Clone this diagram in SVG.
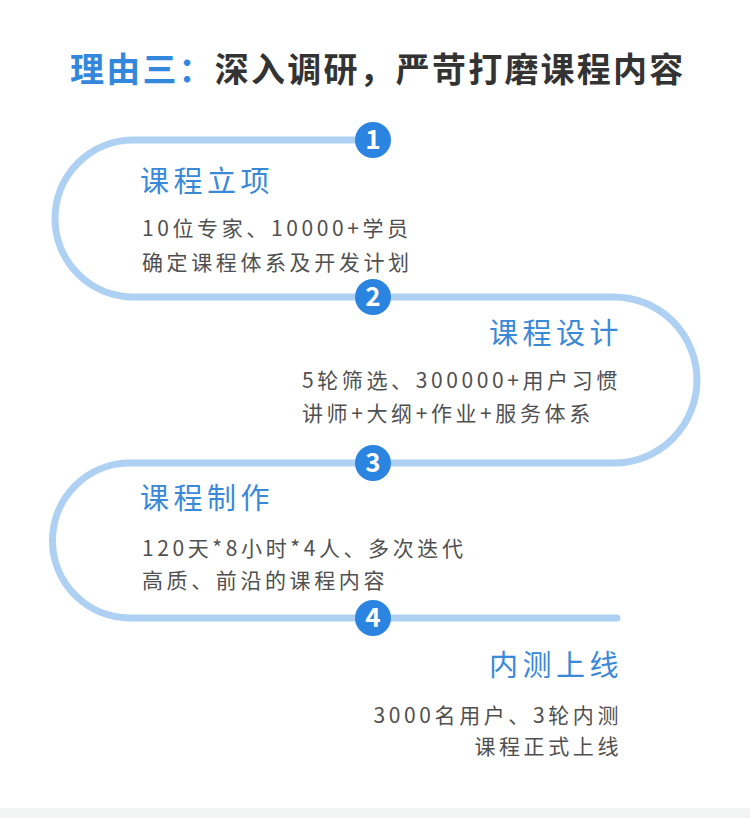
<svg xmlns="http://www.w3.org/2000/svg" width="750" height="818" viewBox="0 0 750 818">
<style>
text{font-family:"Noto Sans CJK SC","Noto Sans",sans-serif}
.title{font-size:34px;font-weight:bold;fill:#333;letter-spacing:2.2px}
.blue{fill:#3388dd}
.head{font-size:29px;fill:#3a88d8;letter-spacing:4.5px}
.body{font-size:21px;fill:#505050;letter-spacing:3.6px}
.num{font-size:26px;font-weight:bold;fill:#fff;text-anchor:middle}
.dot{fill:#2a84e0}
</style>
<rect width="750" height="818" fill="#fff"/>
<rect y="808" width="750" height="10" fill="#f2f3f3"/>
<text class="title" x="70" y="82"><tspan class="blue">理由三：</tspan>深入调研，严苛打磨课程内容</text>
<g id="connectors">
<path d="M373 140 H133.5 A78.5 78.5 0 0 0 133.5 297 H614 A83 83 0 0 1 614 463 H130 A77.5 77.5 0 0 0 130 618 H617" fill="none" stroke="#aed0f3" stroke-width="7" stroke-linecap="round"/>
</g>
<g id="step1">
<circle class="dot" cx="373" cy="140" r="18"/>
<text class="num" x="373" y="149">1</text>
<text class="head" x="140" y="192">课程立项</text>
<text class="body" x="142" y="236">10位专家、10000+学员</text>
<text class="body" x="142" y="270">确定课程体系及开发计划</text>
</g>
<g id="step2">
<circle class="dot" cx="373" cy="297" r="18"/>
<text class="num" x="373" y="306">2</text>
<text class="head" x="623" y="344" text-anchor="end">课程设计</text>
<text class="body" x="302" y="388">5轮筛选、300000+用户习惯</text>
<text class="body" x="302" y="421">讲师+大纲+作业+服务体系</text>
</g>
<g id="step3">
<circle class="dot" cx="373" cy="463" r="18"/>
<text class="num" x="373" y="472">3</text>
<text class="head" x="140" y="509">课程制作</text>
<text class="body" x="142" y="556">120天*8小时*4人、多次迭代</text>
<text class="body" x="142" y="588">高质、前沿的课程内容</text>
</g>
<g id="step4">
<circle class="dot" cx="373" cy="618" r="18"/>
<text class="num" x="373" y="627">4</text>
<text class="head" x="623" y="676" text-anchor="end">内测上线</text>
<text class="body" x="622" y="723" text-anchor="end">3000名用户、3轮内测</text>
<text class="body" x="622" y="754" text-anchor="end">课程正式上线</text>
</g>
</svg>
